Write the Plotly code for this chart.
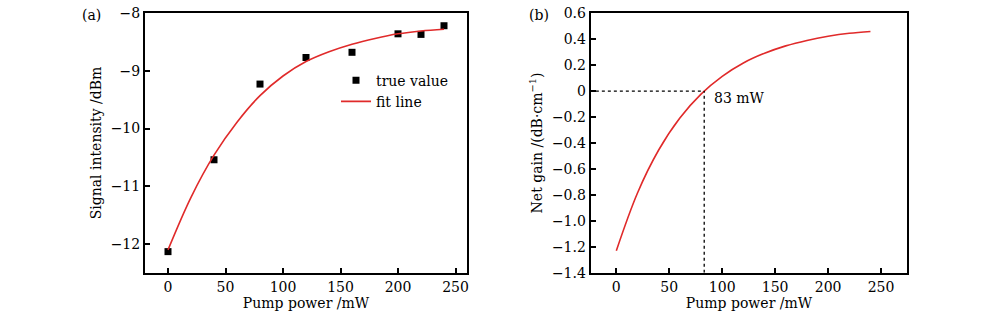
import plotly.graph_objects as go

# ---- data ----
pump_true = [0, 40, 80, 120, 160, 200, 220, 240]
signal_true = [-12.13, -10.54, -9.23, -8.77, -8.68, -8.36, -8.37, -8.22]

pump_fit = [0, 20, 40, 60, 80, 100, 120, 140, 160, 180, 200, 220, 240]
signal_fit = [-12.10, -11.19, -10.46, -9.89, -9.43, -9.09, -8.84, -8.67, -8.54, -8.44, -8.36, -8.31, -8.28]

pump_gain = [0, 20, 40, 60, 80, 100, 120, 140, 160, 180, 200, 220, 240]
net_gain = [-1.23, -0.785, -0.454, -0.207, -0.023, 0.114, 0.217, 0.292, 0.349, 0.391, 0.423, 0.446, 0.460]

threshold_power = 83

x_ticks = [0, 50, 100, 150, 200, 250]
a_yticks = [-12, -11, -10, -9, -8]
b_yticks = [-1.4, -1.2, -1.0, -0.8, -0.6, -0.4, -0.2, 0, 0.2, 0.4, 0.6]
b_yticklabels = ["−1.4", "−1.2", "−1.0", "−0.8", "−0.6", "−0.4", "−0.2", "0", "0.2", "0.4", "0.6"]

FONT = "DejaVu Serif"
RED = "#e02a2a"

fig = go.Figure()

fig.add_trace(go.Scatter(x=pump_true, y=signal_true, mode="markers", name="true value",
                         marker=dict(symbol="square", size=7, color="black"),
                         xaxis="x", yaxis="y"))
fig.add_trace(go.Scatter(x=pump_fit, y=signal_fit, mode="lines", name="fit line",
                         line=dict(color=RED, width=1.6, shape="spline"),
                         xaxis="x", yaxis="y"))

fig.add_trace(go.Scatter(x=pump_gain, y=net_gain, mode="lines", showlegend=False,
                         line=dict(color=RED, width=1.6, shape="spline"),
                         xaxis="x2", yaxis="y2"))
# dashed guides
fig.add_trace(go.Scatter(x=[-25, threshold_power], y=[0, 0], mode="lines", showlegend=False,
                         line=dict(color="black", width=1.3, dash="dot"),
                         xaxis="x2", yaxis="y2"))
fig.add_trace(go.Scatter(x=[threshold_power, threshold_power], y=[-1.4, 0], mode="lines", showlegend=False,
                         line=dict(color="black", width=1.3, dash="dot"),
                         xaxis="x2", yaxis="y2"))

axis_common = dict(showline=True, linecolor="black", linewidth=2, mirror=True,
                   ticks="inside", ticklen=5, tickwidth=1.5, tickcolor="black",
                   showgrid=False, zeroline=False, automargin=False,
                   ticklabeloverflow="allow",
                   tickfont=dict(family=FONT, size=14, color="black"))

fig.update_layout(
    width=1000, height=319,
    margin=dict(l=0, r=0, t=0, b=0),
    paper_bgcolor="white", plot_bgcolor="white",
    font=dict(family=FONT, color="black"),
    xaxis=dict(domain=[0.145, 0.467], range=[-20, 260], tickvals=x_ticks, anchor="y",
               title=dict(text="Pump power /mW", font=dict(family=FONT, size=14), standoff=2),
               **axis_common),
    yaxis=dict(domain=[0.1442, 0.9592], range=[-12.5, -8], tickvals=a_yticks, anchor="x",
               title=dict(text="Signal intensity /dBm", font=dict(family=FONT, size=14), standoff=6),
               **axis_common),
    xaxis2=dict(domain=[0.5907, 0.9073], range=[-24.2, 274.8], tickvals=x_ticks, anchor="y2",
                title=dict(text="Pump power /mW", font=dict(family=FONT, size=14), standoff=2),
                **axis_common),
    yaxis2=dict(domain=[0.1451, 0.9583], range=[-1.4, 0.6], tickvals=b_yticks, ticktext=b_yticklabels,
                anchor="x2",
                title=dict(text="Net gain /(dB·cm<sup>−1</sup>)", font=dict(family=FONT, size=14), standoff=6),
                **axis_common),
    legend=dict(x=0.336, y=0.7975, xanchor="left", yanchor="top",
                bgcolor="rgba(0,0,0,0)", font=dict(family=FONT, size=14),
                itemwidth=30, tracegroupgap=0),
    annotations=[
        dict(text="(a)", x=0.080, y=0.953, xref="paper", yref="paper", xanchor="left", yanchor="middle",
             showarrow=False, font=dict(family=FONT, size=14)),
        dict(text="(b)", x=0.5268, y=0.953, xref="paper", yref="paper", xanchor="left", yanchor="middle",
             showarrow=False, font=dict(family=FONT, size=14)),
        dict(text="83 mW", x=90, y=-0.05, xref="x2", yref="y2", xanchor="left", yanchor="middle",
             showarrow=False, font=dict(family=FONT, size=14)),
    ],
)

fig.write_html("out.html", config={"displayModeBar": False},
               post_script="document.body.style.margin='0';")
